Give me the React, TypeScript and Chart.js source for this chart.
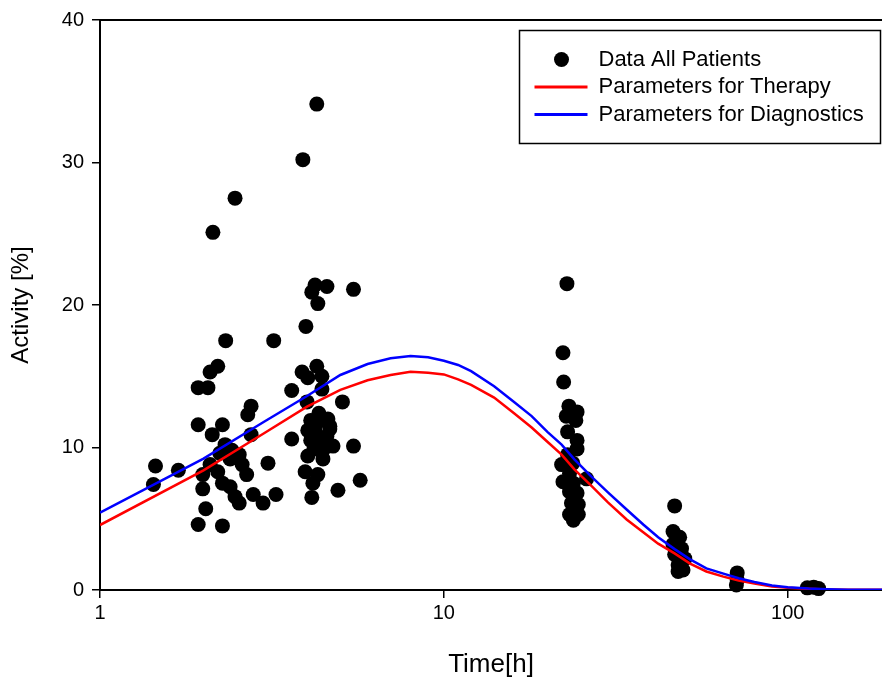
import React, { useEffect, useRef } from "react";
import { Chart, registerables } from "chart.js";

Chart.register(...registerables);

// Measured patient data: time [h] and activity [%]
const patientTimes = [
  4.27, 3.89, 2.47, 2.13, 4.22, 4.13, 4.57, 4.30, 5.46, 3.97,
  2.32, 3.20, 2.20, 2.09, 1.93, 2.06, 3.87, 4.02, 4.27, 4.42,
  4.42, 3.61, 5.07, 4.00, 2.75, 2.69, 1.93, 2.27, 2.12, 2.75,
  2.31, 2.42, 2.23, 2.39, 2.54, 3.08, 1.45, 1.69, 2.09, 2.59,
  2.67, 1.99, 2.20, 2.27, 1.43, 1.99, 2.39, 2.47, 2.54, 2.79,
  2.98, 3.25, 2.03, 1.93, 2.27, 3.61, 4.10, 4.02, 4.36, 4.60,
  4.66, 4.22, 4.52, 4.76, 5.46, 4.36, 4.02, 4.45, 3.95, 4.30,
  4.16, 4.13, 4.92, 5.71, 4.27, 4.33, 4.66, 4.19, 4.45, 4.45,
  4.57, 4.10,
  22.8, 22.2, 22.3, 23.1, 24.4, 22.7, 24.2, 22.9, 24.4, 24.4,
  22.9, 22.0, 23.7, 23.2, 26.0, 22.2, 23.8, 23.2, 24.4, 23.5,
  24.6, 23.2, 24.6, 23.8,
  46.9, 46.4, 48.5, 46.4, 49.1, 46.9, 50.2, 48.0, 49.6, 48.0,
  71.3, 71.3, 70.9,
  114, 119, 123,
];
const patientActivity = [
  34.1, 30.2, 27.5, 25.1, 21.4, 20.9, 21.3, 20.1, 21.1, 18.5,
  17.5, 17.5, 15.7, 15.3, 14.2, 14.2, 15.3, 14.9, 15.7, 15.0,
  14.1, 14.0, 13.2, 13.2, 12.9, 12.3, 11.6, 11.6, 10.9, 10.9,
  10.2, 9.8, 9.6, 9.2, 9.5, 8.9, 8.7, 8.4, 8.8, 8.8,
  8.1, 8.1, 8.3, 7.5, 7.4, 7.1, 7.25, 6.55, 6.1, 6.7,
  6.1, 6.7, 5.7, 4.6, 4.5, 10.6, 11.9, 11.2, 12.2, 12.0,
  11.3, 11.1, 10.6, 10.1, 10.1, 10.3, 9.4, 9.2, 8.3, 8.1,
  7.5, 6.5, 7.0, 7.7, 11.7, 12.4, 11.5, 9.9, 9.8, 10.6,
  10.8, 10.5,
  21.5, 16.65, 14.6, 12.9, 12.5, 12.2, 11.9, 11.1, 10.5, 9.9,
  9.5, 8.8, 8.9, 8.2, 7.8, 7.6, 7.5, 6.9, 6.8, 6.1,
  6.0, 5.3, 5.3, 4.9,
  5.9, 4.1, 3.7, 3.2, 2.9, 2.5, 2.2, 1.75, 1.4, 1.3,
  1.2, 0.7, 0.35,
  0.15, 0.2, 0.1,
];

// Model curves
const curveTimes = [
  1, 2, 3, 4, 5, 6, 7, 8, 9, 10, 11, 12, 14, 16, 18, 20, 22, 24, 27, 30,
  34, 38, 42, 47, 52, 58, 65, 72, 80, 90, 100, 115, 130, 150, 188,
];
const therapyActivity = [
  4.56, 8.4, 11.0, 12.87, 14.04, 14.72, 15.09, 15.32, 15.25, 15.13, 14.78, 14.39, 13.5, 12.4, 11.4, 10.4, 9.5, 8.45, 7.25, 6.15,
  4.95, 4.05, 3.25, 2.55, 1.85, 1.3, 0.94, 0.67, 0.45, 0.25, 0.15, 0.08, 0.04, 0.02, 0.01,
];
const diagnosticsActivity = [
  5.43, 9.22, 11.81, 13.61, 15.09, 15.86, 16.26, 16.42, 16.33, 16.09, 15.79, 15.36, 14.3, 13.2, 12.2, 11.1, 10.2, 9.15, 7.9, 6.85,
  5.65, 4.6, 3.7, 2.85, 2.15, 1.52, 1.15, 0.82, 0.56, 0.31, 0.19, 0.1, 0.05, 0.02, 0.01,
];

const xTickValues = [1, 10, 100];
const yTickValues = [0, 10, 20, 30, 40];
const xRange = [1, 188];
const yRange = [0, 40];

const legendLabels = ["Data All Patients", "Parameters for Therapy", "Parameters for Diagnostics"];
const seriesColors = ["#000000", "#ff0000", "#0000ff"];

const FONT = "'Liberation Sans', Arial, Helvetica, sans-serif";

const framePlugin = {
  id: "frameAndLegend",
  afterDraw(chart: any) {
    const { ctx, chartArea } = chart;
    ctx.save();
    // top frame line
    ctx.strokeStyle = "#000";
    ctx.lineWidth = 2;
    ctx.beginPath();
    ctx.moveTo(chartArea.left - 1, chartArea.top);
    ctx.lineTo(chart.width, chartArea.top);
    ctx.stroke();

    // legend box
    const bx = chartArea.left + 419.5;
    const by = chartArea.top + 10.5;
    const bw = 361;
    const bh = 113;
    ctx.fillStyle = "#fff";
    ctx.fillRect(bx, by, bw, bh);
    ctx.lineWidth = 1.5;
    ctx.strokeStyle = "#000";
    ctx.strokeRect(bx, by, bw, bh);

    const rowY = [by + 28, by + 55.5, by + 83];
    const symX = bx + 42;
    const textX = bx + 79;
    ctx.font = `22px ${FONT}`;
    ctx.textBaseline = "middle";
    ctx.textAlign = "left";
    legendLabels.forEach((label, i) => {
      if (i === 0) {
        ctx.fillStyle = seriesColors[0];
        ctx.beginPath();
        ctx.arc(symX, rowY[i] + 1, 7.5, 0, Math.PI * 2);
        ctx.fill();
      } else {
        ctx.strokeStyle = seriesColors[i];
        ctx.lineWidth = 3;
        ctx.beginPath();
        ctx.moveTo(symX - 27, rowY[i] + 1);
        ctx.lineTo(symX + 26, rowY[i] + 1);
        ctx.stroke();
      }
      ctx.fillStyle = "#000";
      ctx.fillText(label, textX, rowY[i] + 1);
    });
    ctx.restore();
  },
};

export default function App() {
  const canvasRef = useRef<HTMLCanvasElement | null>(null);

  useEffect(() => {
    const canvas = canvasRef.current;
    if (!canvas) return;

    const points = patientTimes.map((t, i) => ({ x: t, y: patientActivity[i] }));
    const therapy = curveTimes.map((t, i) => ({ x: t, y: therapyActivity[i] }));
    const diagnostics = curveTimes.map((t, i) => ({ x: t, y: diagnosticsActivity[i] }));

    const chart = new Chart(canvas, {
      type: "scatter",
      data: {
        datasets: [
          {
            label: legendLabels[2],
            data: diagnostics,
            showLine: true,
            borderColor: seriesColors[2],
            backgroundColor: seriesColors[2],
            borderWidth: 2.5,
            pointRadius: 0,
            pointHoverRadius: 0,
            tension: 0,
            order: 1,
          },
          {
            label: legendLabels[1],
            data: therapy,
            showLine: true,
            borderColor: seriesColors[1],
            backgroundColor: seriesColors[1],
            borderWidth: 2.5,
            pointRadius: 0,
            pointHoverRadius: 0,
            tension: 0,
            order: 2,
          },
          {
            label: legendLabels[0],
            data: points,
            showLine: false,
            backgroundColor: seriesColors[0],
            borderColor: seriesColors[0],
            borderWidth: 0,
            pointRadius: 7.5,
            pointHoverRadius: 7.5,
            clip: false,
            order: 3,
          },
        ],
      },
      options: {
        responsive: false,
        animation: false,
        events: [],
        layout: { autoPadding: false, padding: { top: 20, right: 0, left: 0, bottom: 0 } },
        plugins: {
          legend: { display: false },
          tooltip: { enabled: false },
        },
        scales: {
          x: {
            type: "logarithmic",
            position: "bottom",
            min: xRange[0],
            max: xRange[1],
            afterBuildTicks: (s: any) => {
              s.ticks = xTickValues.map((v) => ({ value: v }));
            },
            afterFit: (s: any) => {
              s.height = 97;
              s.paddingLeft = 0;
              s.paddingRight = 0;
            },
            ticks: {
              autoSkip: false,
              maxRotation: 0,
              color: "#000",
              padding: 3,
              font: { family: FONT, size: 20 },
              callback: (v: any) => String(v),
            },
            grid: {
              drawOnChartArea: false,
              drawTicks: true,
              tickLength: 8,
              color: "#000",
              lineWidth: 1.5,
            },
            border: { display: true, color: "#000", width: 2 },
            title: {
              display: true,
              text: "Time[h]",
              color: "#000",
              font: { family: FONT, size: 26 },
              padding: { top: 0, bottom: 7 },
            },
          },
          y: {
            type: "linear",
            min: yRange[0],
            max: yRange[1],
            afterBuildTicks: (s: any) => {
              s.ticks = yTickValues.map((v) => ({ value: v }));
            },
            afterFit: (s: any) => {
              s.width = 100;
            },
            ticks: {
              color: "#000",
              padding: 8,
              font: { family: FONT, size: 20 },
              callback: (v: any) => String(v),
            },
            grid: {
              drawOnChartArea: false,
              drawTicks: true,
              tickLength: 8,
              color: "#000",
              lineWidth: 1.5,
            },
            border: { display: true, color: "#000", width: 2 },
            title: {
              display: true,
              text: "Activity [%]",
              color: "#000",
              font: { family: FONT, size: 24 },
              padding: { top: 7, bottom: 0 },
            },
          },
        },
      },
      plugins: [framePlugin],
    });

    return () => chart.destroy();
  }, []);

  return (
    <div style={{ position: "fixed", left: 0, top: 0, width: 882, height: 687, background: "#fff" }}>
      <canvas ref={canvasRef} width={882} height={687} style={{ display: "block" }} />
    </div>
  );
}
